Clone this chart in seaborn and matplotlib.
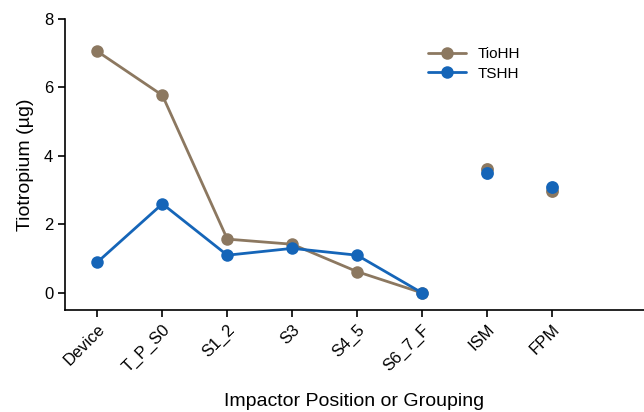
import matplotlib
matplotlib.use("Agg")
import matplotlib.pyplot as plt
import seaborn as sns
import pandas as pd

# Impactor stages and groupings
stages = ["Device", "T_P_S0", "S1_2", "S3", "S4_5", "S6_7_F"]
groupings = ["ISM", "FPM"]

# Tiotropium deposition (µg)
tiohh_stages = [7.05, 5.77, 1.57, 1.42, 0.62, 0.0]
tshh_stages = [0.9, 2.6, 1.1, 1.3, 1.1, 0.0]
tiohh_groups = [3.62, 2.97]
tshh_groups = [3.5, 3.1]

series_names = ["TioHH", "TSHH"]
palette = {"TioHH": "#8C7860", "TSHH": "#1565B8"}

stage_df = pd.DataFrame({
    "position": stages * 2,
    "amount": tiohh_stages + tshh_stages,
    "product": [series_names[0]] * len(stages) + [series_names[1]] * len(stages),
})
group_df = pd.DataFrame({
    "position": groupings * 2,
    "amount": tiohh_groups + tshh_groups,
    "product": [series_names[0]] * len(groupings) + [series_names[1]] * len(groupings),
})

sns.set_theme(style="ticks")
plt.rcParams["font.family"] = ["Liberation Sans", "DejaVu Sans"]
plt.rcParams["text.color"] = "black"
plt.rcParams["axes.labelcolor"] = "black"
plt.rcParams["xtick.color"] = "black"
plt.rcParams["ytick.color"] = "black"

fig = plt.figure(figsize=(6.44, 4.12), dpi=100)
ax = fig.add_axes([0.101, 0.2476, 0.899, 0.7064])

sns.lineplot(data=stage_df, x="position", y="amount", hue="product",
             hue_order=series_names, palette=palette, marker="o",
             markersize=9, markeredgewidth=0, linewidth=2.0,
             sort=False, ax=ax)
for name in series_names:
    sub = group_df[group_df["product"] == name]
    sns.scatterplot(data=sub, x="position", y="amount", color=palette[name],
                    s=85, linewidth=0, legend=False, ax=ax, zorder=3)

ax.set_ylim(-0.5, 8)
ax.set_yticks([0, 2, 4, 6, 8])
ax.set_xlim(-0.5, 8.42)
ax.set_xlabel("Impactor Position or Grouping", fontsize=14, labelpad=13)
ax.set_ylabel("Tiotropium (µg)", fontsize=14, labelpad=7)
ax.tick_params(axis="both", labelsize=12, length=5, width=1.2, color="black")
plt.setp(ax.get_xticklabels(), rotation=45, ha="right", rotation_mode="anchor")
for side in ["left", "bottom"]:
    ax.spines[side].set_linewidth(1.2)
    ax.spines[side].set_color("black")
sns.despine(ax=ax)

leg = ax.legend(title=None, frameon=False, fontsize=11,
                loc="upper left", bbox_to_anchor=(0.603, 0.95),
                handlelength=2.5, handletextpad=0.75, labelspacing=0.35)

fig.savefig("out.png", dpi=100)
